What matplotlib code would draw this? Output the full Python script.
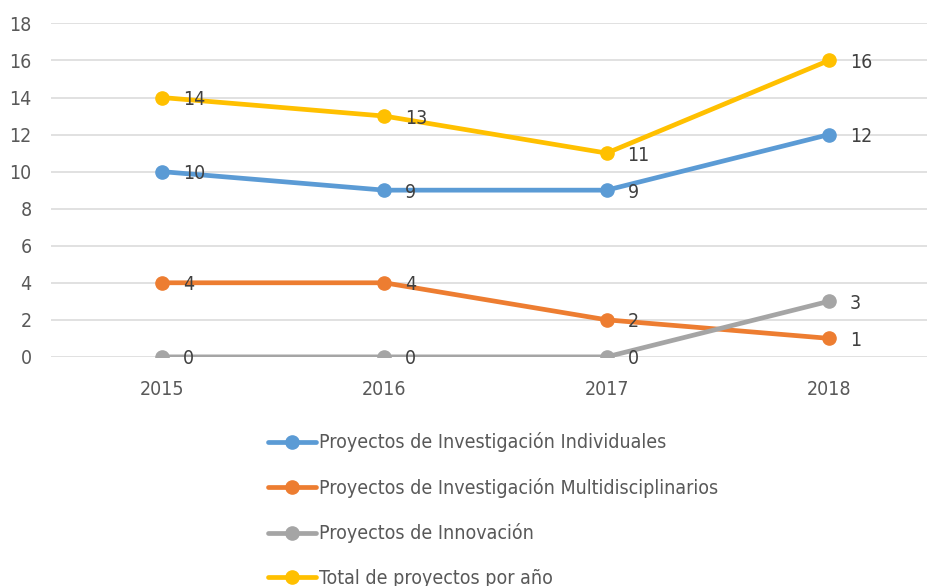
import matplotlib
matplotlib.use("Agg")
import matplotlib.pyplot as plt
import numpy as np

# --- Data ---
years = ['2015', '2016', '2017', '2018']
individuales = [10, 9, 9, 12]
multidisciplinarios = [4, 4, 2, 1]
innovacion = [0, 0, 0, 3]
total = [14, 13, 11, 16]

series_names = [
    'Proyectos de Investigación Individuales',
    'Proyectos de Investigación Multidisciplinarios',
    'Proyectos de Innovación',
    'Total de proyectos por año',
]
series_values = [individuales, multidisciplinarios, innovacion, total]
series_colors = ['#5B9BD5', '#ED7D31', '#A5A5A5', '#FFC000']

# --- Style ---
# condensed face stands in for the narrow font of the original
plt.rcParams['font.family'] = ['DejaVu Sans']
plt.rcParams['font.stretch'] = 'condensed'
FONT_SIZE = 14
TICK_COLOR = '#595959'
LABEL_COLOR = '#404040'

fig = plt.figure(figsize=(9.28, 5.86), dpi=100)
ax = fig.add_axes([0.055, 0.391, 0.945, 0.569])

x = np.arange(len(years))
for name, vals, color in zip(series_names, series_values, series_colors):
    ax.plot(x, vals, color=color, linewidth=3.4, marker='o', markersize=9.5,
            solid_capstyle='round', label=name, zorder=3)
    # data labels to the right of each point
    for xi, v in zip(x, vals):
        ax.annotate(str(v), (xi, v), xytext=(15, -1.5), textcoords='offset points',
                    ha='left', va='center', fontsize=FONT_SIZE, color=LABEL_COLOR,
                    zorder=4)

# --- Axes formatting ---
ax.set_ylim(0, 18)
ax.set_yticks(np.arange(0, 19, 2))
ax.set_xlim(-0.5, 3.446)
ax.set_xticks(x)
ax.set_xticklabels(years)
ax.yaxis.grid(True, color='#D9D9D9', linewidth=1.1, zorder=0)
ax.set_axisbelow(True)
for s in ax.spines.values():
    s.set_visible(False)
ax.tick_params(axis='both', length=0, labelsize=FONT_SIZE, colors=TICK_COLOR)
ax.tick_params(axis='x', pad=17)
ax.tick_params(axis='y', pad=14)
for lbl in ax.get_yticklabels() + ax.get_xticklabels():
    lbl.set_color(TICK_COLOR)

# --- Legend below, one entry per row ---
fig.legend(loc='upper left', bbox_to_anchor=(0.289, 0.262), frameon=False,
           fontsize=FONT_SIZE, handlelength=2.45, handletextpad=0.15,
           labelspacing=1.31, labelcolor=TICK_COLOR, borderaxespad=0,
           borderpad=0)

fig.savefig('out.png', dpi=100)
